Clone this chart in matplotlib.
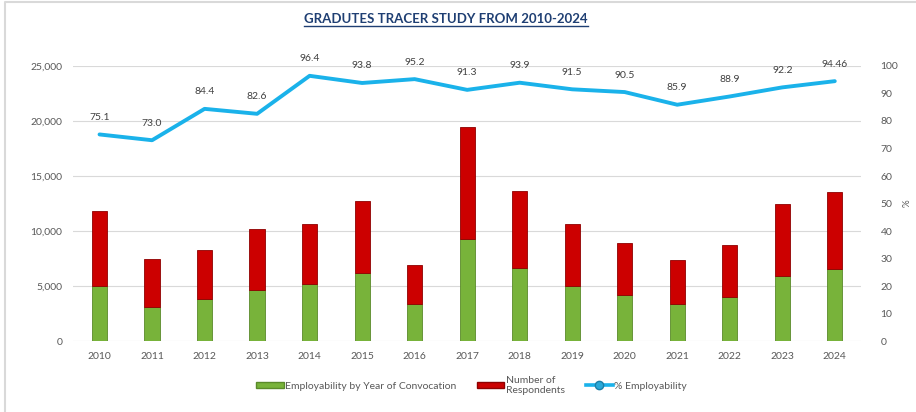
import matplotlib.pyplot as plt
from matplotlib.lines import Line2D
from matplotlib.patches import Patch
import numpy as np

plt.rcParams['font.family'] = ['Lato', 'DejaVu Sans']

years = ['2010', '2011', '2012', '2013', '2014', '2015', '2016', '2017',
         '2018', '2019', '2020', '2021', '2022', '2023', '2024']
employed = [5000, 3100, 3800, 4600, 5200, 6150, 3350, 9300,
            6600, 5000, 4200, 3350, 4000, 5900, 6550]
respondents_extra = [6800, 4400, 4500, 5550, 5400, 6550, 3550, 10150,
                     7000, 5600, 4700, 4000, 4700, 6550, 7000]
pct = [75.1, 73.0, 84.4, 82.6, 96.4, 93.8, 95.2, 91.3,
       93.9, 91.5, 90.5, 85.9, 88.9, 92.2, 94.46]
pct_labels = ['75.1', '73.0', '84.4', '82.6', '96.4', '93.8', '95.2', '91.3',
              '93.9', '91.5', '90.5', '85.9', '88.9', '92.2', '94.46']

green = '#78B33A'
red = '#CC0000'
blue = '#1AB2EA'
grey = '#595959'

fig = plt.figure(figsize=(9.16, 4.12), dpi=100)
ax = fig.add_axes([0.080, 0.172, 0.860, 0.668])
x = np.arange(len(years))

ax.bar(x, employed, width=0.29, color=green, edgecolor='#5A8A2A', linewidth=0.6, zorder=2)
ax.bar(x, respondents_extra, width=0.29, bottom=employed, color=red,
       edgecolor='#8E0000', linewidth=0.6, zorder=2)

ax.set_xlim(-0.5, len(years) - 0.5)
ax.set_ylim(0, 25000)
ax.set_yticks(range(0, 25001, 5000))
ax.set_yticklabels(['{:,}'.format(v) for v in range(0, 25001, 5000)])
ax.set_xticks(x)
ax.set_xticklabels(years)
ax.grid(axis='y', color='#D9D9D9', linewidth=0.8, zorder=0)
ax.set_axisbelow(True)
for s in ax.spines.values():
    s.set_visible(False)
ax.tick_params(length=0, labelsize=7.5, colors=grey, pad=8)

ax2 = ax.twinx()
ax2.plot(x, pct, color=blue, linewidth=2.8, solid_capstyle='round', zorder=3)
for xi, v, lab in zip(x, pct, pct_labels):
    ax2.annotate(lab, (xi, v), xytext=(0, 9), textcoords='offset points',
                 ha='center', va='bottom', fontsize=7.5, color='#404040')
ax2.set_ylim(0, 100)
ax2.set_yticks(range(0, 101, 10))
for s in ax2.spines.values():
    s.set_visible(False)
ax2.tick_params(length=0, labelsize=7.5, colors=grey, pad=14)
ax2.set_ylabel('%', fontsize=7, color=grey, labelpad=3)

# title with underline
t = fig.text(0.487, 0.955, 'GRADUTES TRACER STUDY FROM 2010-2024', ha='center', va='center',
             fontsize=9.5, fontweight='bold', color='#1F3F73')
fig.canvas.draw()
bb = t.get_window_extent().transformed(fig.transFigure.inverted())
fig.add_artist(Line2D([bb.x0, bb.x1], [bb.y0 - 0.004, bb.y0 - 0.004], color='#1F3F73',
                      linewidth=1.0, transform=fig.transFigure))

# chart border
fig.add_artist(Line2D([0.006, 0.006, 1], [0, 0.995, 0.995], color='#D9D9D9',
                      linewidth=1.5, transform=fig.transFigure))

handles = [Patch(facecolor=green, edgecolor='#5A8A2A'),
           Patch(facecolor=red, edgecolor='#8E0000'),
           Line2D([0], [0], color=blue, linewidth=2.6, marker='o', markersize=6,
                  markerfacecolor='#29A8D8', markeredgecolor='#1B7FA8')]
fig.legend(handles, ['Employability by Year of Convocation', 'Number of\nRespondents',
                     '% Employability'],
           loc='center', bbox_to_anchor=(0.515, 0.065), ncol=3, frameon=False,
           fontsize=7.5, labelcolor=grey, handlelength=2.6, handleheight=0.6,
           handletextpad=0.15, columnspacing=2.0)

fig.savefig('out.png', dpi=100)
